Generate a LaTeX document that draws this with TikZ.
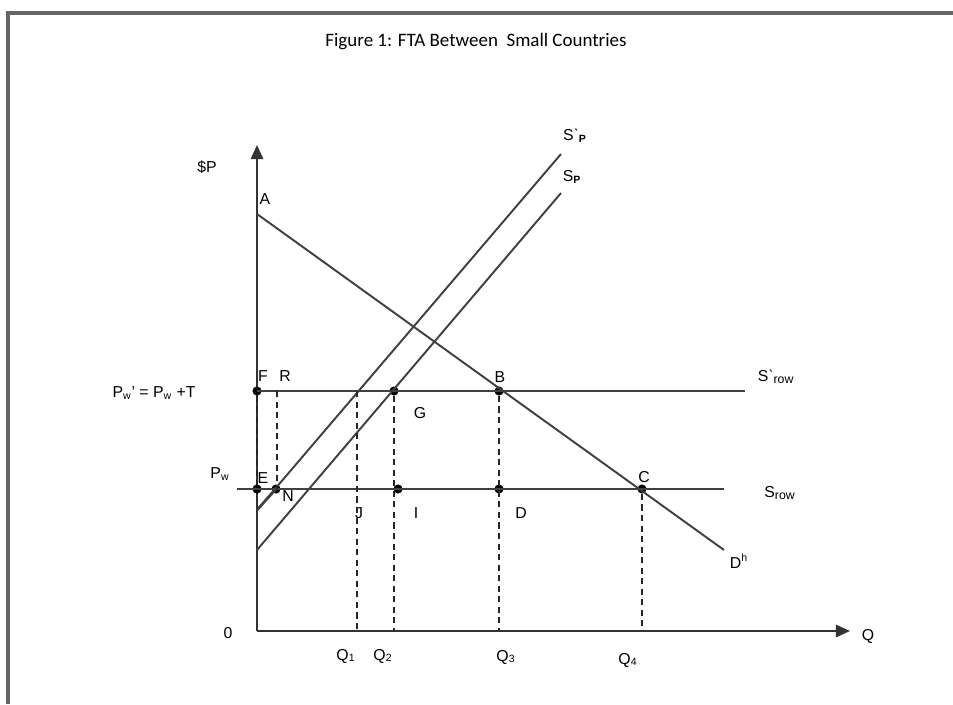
\documentclass[tikz,border=0pt]{standalone}
\usepackage{fontspec}
\setmainfont{Liberation Sans}
\newfontfamily\titlefont{Carlito}
\usetikzlibrary{arrows.meta,positioning}

\begin{document}
\begin{tikzpicture}[
    x=0.02cm, y=-0.02cm,
    curve/.style={draw=black!75, line width=1.1pt},
    axis/.style={draw=black!80, line width=1.3pt, -{Triangle[length=8pt,width=7pt]}},
    guide/.style={draw=black!85, line width=0.9pt, dash pattern=on 3.5pt off 2.5pt},
    dot/.style={circle, fill=black, inner sep=0pt, minimum size=5.2pt},
    lbl/.style={font=\fontsize{9}{11}\selectfont, inner sep=1pt}
]
\useasboundingbox (0,0) rectangle (953,704);

% Frame and title
\draw[black!60, line width=1.8pt] (8,704) -- (8,13) -- (953,13);
\node[font=\titlefont\fontsize{10.8}{12}\selectfont] (title) at (476,42) {Figure 1: FTA Between\ \ Small Countries};

% Axes
\coordinate (O) at (257,631);
\coordinate (Ytop) at (257,145);
\coordinate (Xend) at (850,631);
\draw[axis] (O) -- (Ytop);
\draw[axis] (O) -- (Xend);
\node[lbl] (lP) at (207,167) {\$P};
\node[lbl] (l0) at (228,633) {0};
\node[lbl] (lQ) at (868,636) {Q};

% Curve end points
\coordinate (A) at (257,214);
\coordinate (Dend) at (724,550);
\coordinate (Srow1) at (745,391);
\coordinate (Srowl) at (237,489);
\coordinate (Srowr) at (724,489);
\coordinate (Spp0) at (257,510);
\coordinate (Spp1) at (561,154);
\coordinate (Sp0) at (257,550);
\coordinate (Sp1) at (561,193);

% Points
\node[dot] (F) at (257,391) {};
\node[dot] (G) at (394,391) {};
\node[dot] (B) at (499,391) {};
\node[dot] (E) at (257,489) {};
\node[dot] (N) at (276,489) {};
\node[dot] (I) at (398,489) {};
\node[dot] (D) at (499,489) {};
\node[dot] (C) at (642,489) {};
\coordinate (Rt) at (277,391);
\coordinate (Rb) at (277,489);
\coordinate (Jt) at (357,391);
\coordinate (Q1) at (357,631);
\coordinate (Q2) at (394,631);
\coordinate (Q3) at (499,631);
\coordinate (Q4) at (642,626);

% Demand and supply
\draw[curve] (A) -- (Dend);
\draw[curve] (F.center) -- (Srow1);
\draw[curve] (Srowl) -- (Srowr);
\draw[curve] (Spp0) -- (Spp1);
\draw[curve] (Sp0) -- (Sp1);
\draw[curve, line width=1.5pt] (Spp0) -- (N.center);

% Dashed guides
\draw[guide] (F) -- (E);
\draw[guide] (Rt) -- (Rb);
\draw[guide] (Jt) -- (Q1);
\draw[guide] (G) -- (Q2);
\draw[guide] (B) -- (Q3);
\draw[guide] (C) -- (Q4);

% Point labels
\node[lbl] (lA) at (265,199) {A};
\node[lbl] (lF) at (263,376) {F};
\node[lbl] (lR) at (285,376) {R};
\node[lbl] (lB) at (500,377) {B};
\node[lbl] (lG) at (420,413) {G};
\node[lbl] (lE) at (263,478) {E};
\node[lbl] (lN) at (288,496) {N};
\node[lbl] (lC) at (644,477) {C};
\node[lbl] (lJ) at (359,513) {J};
\node[lbl] (lI) at (416,513) {I};
\node[lbl] (lD) at (521,513) {D};

% Curve labels
\node[lbl] (lSpp) at (575,136) {Sˋ\textsubscript{\textbf{P}}};
\node[lbl] (lSp) at (572,177) {S\textsubscript{\textbf{P}}};
\node[lbl] (lSrow1) at (776,377) {Sˋ\textsubscript{\scriptsize row}};
\node[lbl] (lSrow) at (780,493) {S\textsubscript{\scriptsize row}};
\node[lbl] (lDh) at (739,561) {D\textsuperscript{h}};
\node[lbl] (lPw1) at (154,393) {P\textsubscript{w}’ = P\textsubscript{w} +T};
\node[lbl] (lPw) at (220,474) {P\textsubscript{w}};

% Quantities
\node[lbl] (lQ1) at (346,656) {Q\textsubscript{1}};
\node[lbl] (lQ2) at (383,656) {Q\textsubscript{2}};
\node[lbl] (lQ3) at (506,657) {Q\textsubscript{3}};
\node[lbl] (lQ4) at (628,660) {Q\textsubscript{4}};

\end{tikzpicture}
\end{document}
